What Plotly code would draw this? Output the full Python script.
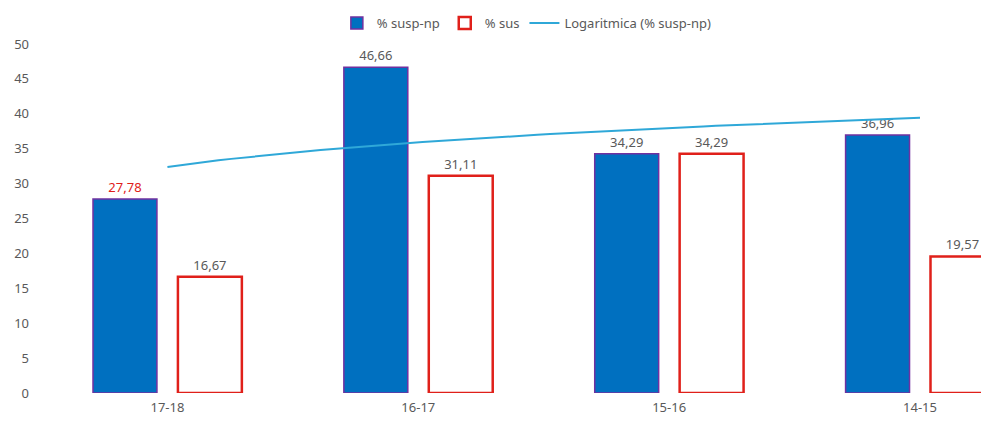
import numpy as np
import plotly.graph_objects as go

categories = ["17-18", "16-17", "15-16", "14-15"]
susp_np = [27.78, 46.66, 34.29, 36.96]
sus = [16.67, 31.11, 34.29, 19.57]
susp_np_labels = ["27,78", "46,66", "34,29", "36,96"]
sus_labels = ["16,67", "31,11", "34,29", "19,57"]
y_ticks = [0, 5, 10, 15, 20, 25, 30, 35, 40, 45, 50]

GREY = "#595959"
FONT = "'Noto Sans', 'Open Sans', sans-serif"

# logarithmic trendline of % susp-np  (y = a*ln(x) + b, x = 1..n)
xs = np.arange(1, len(susp_np) + 1)
a, b = np.polyfit(np.log(xs), np.array(susp_np), 1)
t = np.linspace(1, len(susp_np), 60)
trend = a * np.log(t) + b

x_range = [-0.5, 3.275]

fig = go.Figure()
fig.add_trace(go.Bar(
    x=categories, y=susp_np, name="% susp-np",
    marker=dict(color="#0070C0", line=dict(color="#7030A0", width=1.5)),
    text=susp_np_labels, textposition="outside",
    textfont=dict(color=["#E0201A", GREY, GREY, GREY], size=13, family=FONT),
    cliponaxis=False,
))
fig.add_trace(go.Bar(
    x=categories, y=sus, name="% sus",
    marker=dict(color="white", line=dict(color="#E0201A", width=2.5)),
    text=sus_labels, textposition="outside",
    textfont=dict(color=GREY, size=13, family=FONT),
    cliponaxis=False,
))
fig.add_trace(go.Scatter(
    x=t - 1, y=trend, mode="lines", name="Logaritmica (% susp-np)",
    line=dict(color="#2FA8D8", width=2), xaxis="x2",
))

fig.update_layout(
    width=981, height=408,
    margin=dict(l=34, r=0, t=36, b=18),
    paper_bgcolor="white", plot_bgcolor="white",
    barmode="group", bargap=0.323, bargroupgap=0.247,
    font=dict(family=FONT, color=GREY, size=13),
    showlegend=True,
    legend=dict(orientation="h", x=0.512, xanchor="center",
                yref="container", y=1.0, yanchor="top",
                font=dict(size=13, color=GREY), bgcolor="rgba(0,0,0,0)",
                itemwidth=30, tracegroupgap=0),
    xaxis=dict(type="category", range=x_range, showgrid=False, showline=False,
               zeroline=False, ticks="", ticklabelstandoff=5,
               tickfont=dict(size=13, color=GREY)),
    xaxis2=dict(overlaying="x", range=x_range, visible=False),
    yaxis=dict(range=[0, 50], tickvals=y_ticks, showgrid=False, showline=False,
               zeroline=False, ticks="", ticklabelstandoff=12,
               tickfont=dict(size=13, color=GREY), automargin=False),
)

fig.write_html("out.html")
